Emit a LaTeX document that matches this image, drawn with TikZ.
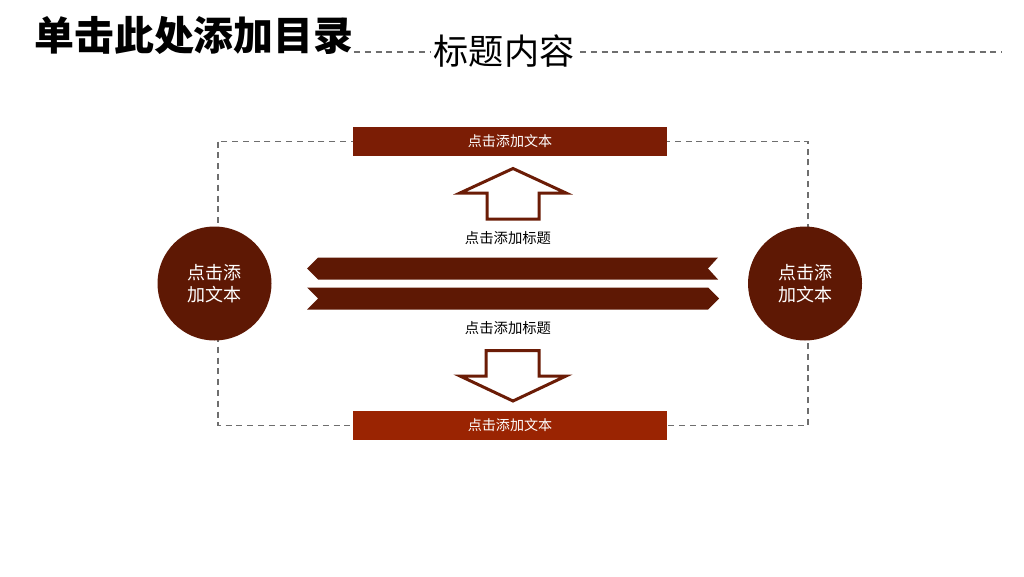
\documentclass[tikz,border=0pt]{standalone}
\usepackage{fontspec}
\newfontfamily\cjk{Noto Sans CJK SC}
\usetikzlibrary{calc, positioning}
\definecolor{deepMaroon}{HTML}{5E1804}
\definecolor{topRed}{HTML}{7B1D05}
\definecolor{bottomRed}{HTML}{9A2402}
\definecolor{arrowRed}{HTML}{6B1C06}
\definecolor{frameGray}{HTML}{6E6E6E}

\begin{document}
\begin{tikzpicture}[
        x=0.25mm, y=-0.25mm,
        font=\cjk,
        barNode/.style={minimum width=78.5mm, minimum height=7.25mm, inner sep=0pt, text=white, font=\cjk\fontsize{10}{12}\selectfont},
        roundNode/.style={circle, fill=deepMaroon, minimum size=28.5mm, inner sep=0pt, text=white, align=center, font=\cjk\fontsize{12.8}{15.5}\selectfont},
        labelNode/.style={inner sep=0pt, font=\cjk\fontsize{10.2}{12}\selectfont},
        hollowArrow/.style={draw=arrowRed, line width=0.75mm, line join=miter, fill=white},
        band/.style={fill=deepMaroon},
        frameLine/.style={draw=frameGray, line width=0.3mm, dash pattern=on 1.5mm off 1.2mm}
    ]
        \useasboundingbox[fill=white] (0,0) rectangle (1024,576);

        % titles
        \node[anchor=west, inner sep=0pt, font=\cjk\bfseries\fontsize{28.4}{30}\selectfont] (toc) at (34,35) {单击此处添加目录};
        \node[inner sep=0pt, font=\cjk\fontsize{25}{28}\selectfont] (heading) at (504,51) {标题内容};
        \draw[frameLine] (toc.south east |- 0,52) -- (430,52);
        \draw[frameLine] (580,52) -- (1002,52);

        % dashed frame
        \coordinate (frameNW) at (218,141.5);
        \coordinate (frameSE) at (808,425.5);
        \draw[frameLine] (frameNW) rectangle (frameSE);

        % text bars
        \node[barNode, fill=topRed] (topBar) at (510,141.5) {点击添加文本};
        \node[barNode, fill=bottomRed] (bottomBar) at (510,425.5) {点击添加文本};

        % side circles
        \node[roundNode] (leftDot) at (214.5,283.5) {点击添\\加文本};
        \node[roundNode] (rightDot) at (805,283.5) {点击添\\加文本};

        % hollow arrows
        \draw[hollowArrow] (513,168.5) -- (566,193) -- (539,193) -- (539,219) -- (487,219) -- (487,193) -- (460,193) -- cycle;
        \draw[hollowArrow] (513,401) -- (566,376) -- (539,376) -- (539,350.5) -- (486,350.5) -- (486,376) -- (460,376) -- cycle;

        \node[labelNode] (upLabel) at (508,238.5) {点击添加标题};
        \node[labelNode] (downLabel) at (508,328) {点击添加标题};

        % ribbons
        \fill[band] (307,268.5) -- (318,257.5) -- (718,257.5) -- (708,268.5) -- (718,279.5) -- (318,279.5) -- cycle;
        \fill[band] (307,287.5) -- (708,287.5) -- (719,298.5) -- (708,309.5) -- (307,309.5) -- (318,298.5) -- cycle;
    \end{tikzpicture}
\end{document}
